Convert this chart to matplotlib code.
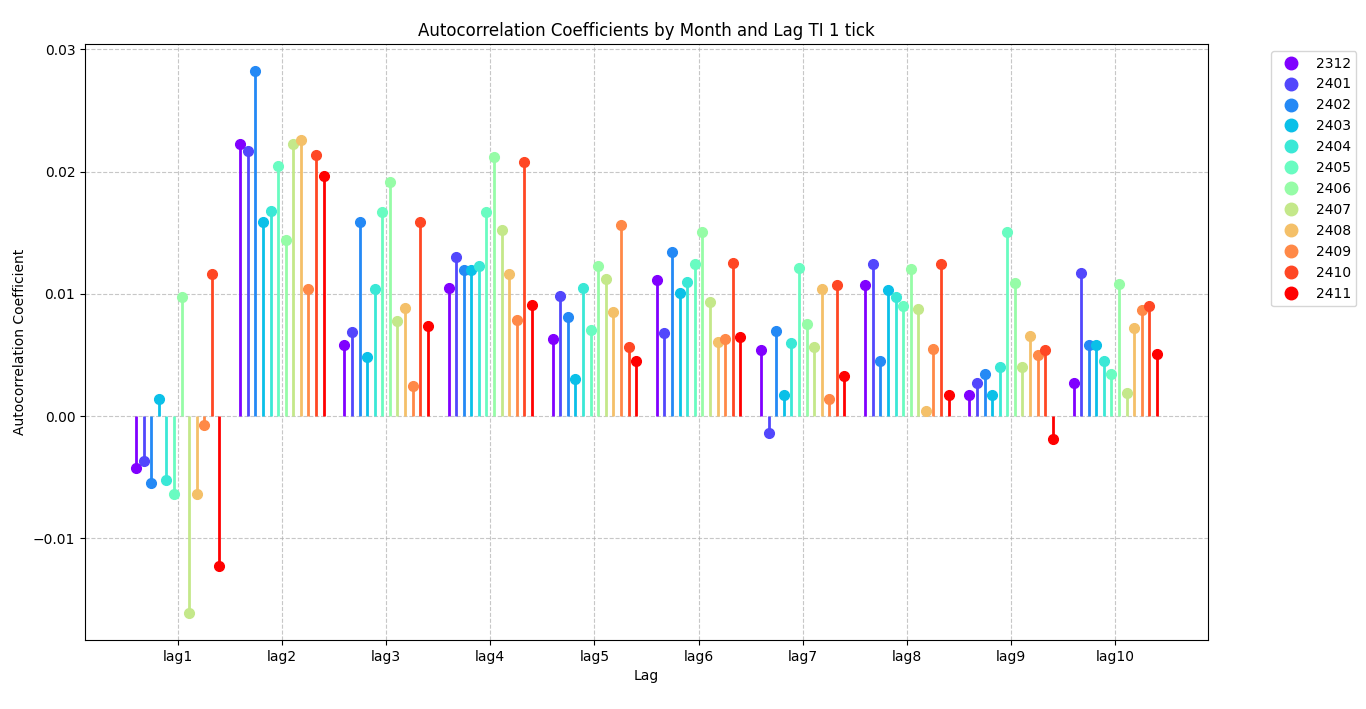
import numpy as np
import matplotlib
matplotlib.use("Agg")
import matplotlib.pyplot as plt
from matplotlib.lines import Line2D

lags = ["lag1", "lag2", "lag3", "lag4", "lag5", "lag6", "lag7", "lag8", "lag9", "lag10"]
months = ["2312", "2401", "2402", "2403", "2404", "2405", "2406", "2407", "2408", "2409", "2410", "2411"]

# values per month, one entry per lag (lag1..lag10)
v2312 = [-0.00425, 0.02228, 0.00586, 0.01052, 0.00627, 0.01117, 0.00545, 0.01076, 0.00169, 0.00267]
v2401 = [-0.0037, 0.0217, 0.00692, 0.01305, 0.00986, 0.00684, -0.00134, 0.01248, 0.00267, 0.01174]
v2402 = [-0.0055, 0.02823, 0.01591, 0.01193, 0.00815, 0.01346, 0.0070, 0.00447, 0.00343, 0.00586]
v2403 = [0.00139, 0.0159, 0.0048, 0.01193, 0.0030, 0.01011, 0.00169, 0.01035, 0.00169, 0.00578]
v2404 = [-0.0052, 0.0168, 0.01044, 0.01232, 0.01052, 0.01101, 0.00602, 0.00978, 0.00406, 0.00455]
v2405 = [-0.0064, 0.02046, 0.01673, 0.01673, 0.00708, 0.01248, 0.01215, 0.00905, 0.0151, 0.00341]
v2406 = [0.00974, 0.01439, 0.01918, 0.02123, 0.01232, 0.0151, 0.00757, 0.01207, 0.01093, 0.01084]
v2407 = [-0.0161, 0.02228, 0.00782, 0.01526, 0.01125, 0.00937, 0.00569, 0.0088, 0.00406, 0.00193]
v2408 = [-0.0064, 0.02259, 0.00888, 0.01166, 0.00856, 0.0061, 0.01044, 0.00038, 0.00659, 0.00717]
v2409 = [-0.00074, 0.01042, 0.00243, 0.0079, 0.01567, 0.00635, 0.00144, 0.00553, 0.00504, 0.00872]
v2410 = [0.01162, 0.02136, 0.01591, 0.02082, 0.00569, 0.01256, 0.01076, 0.01248, 0.00545, 0.00905]
v2411 = [-0.01227, 0.01966, 0.00741, 0.00913, 0.00455, 0.00651, 0.00332, 0.00169, -0.00191, 0.00512]

series = [v2312, v2401, v2402, v2403, v2404, v2405, v2406, v2407, v2408, v2409, v2410, v2411]

fig = plt.figure(figsize=(13.66, 7.09), dpi=100)
ax = fig.add_axes([85/1366, 1 - 640/709, (1208-85)/1366, (640-44)/709])

colors = plt.cm.rainbow(np.linspace(0, 1, len(months)))
base = np.arange(1, len(lags) + 1)
n = len(months)
width = 0.8

handles = []
for i, (m, vals) in enumerate(zip(months, series)):
    x = base - width / 2 + i * width / (n - 1)
    ml, sl, bl = ax.stem(x, vals, basefmt=' ')
    plt.setp(sl, color=colors[i], linewidth=2)
    plt.setp(ml, color=colors[i], markersize=7)
    handles.append(Line2D([0], [0], marker='o', color='w', markerfacecolor=colors[i],
                          markeredgecolor=colors[i], markersize=9, label=m))

ax.set_xticks(base)
ax.set_xticklabels(lags)
ax.set_xlabel("Lag")
ax.set_ylabel("Autocorrelation Coefficient")
ax.set_title("Autocorrelation Coefficients by Month and Lag TI 1 tick")
ax.grid(True, linestyle='--', alpha=0.7)
ax.legend(handles=handles, bbox_to_anchor=(1.05, 1), loc='upper left')

fig.savefig("out.png", dpi=100)
